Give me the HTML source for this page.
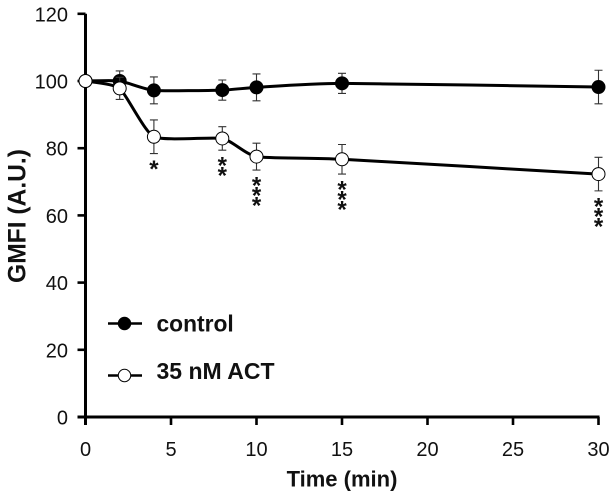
<!DOCTYPE html>
<html><head><meta charset="utf-8"><title>GMFI over time</title>
<style>html,body{margin:0;padding:0;background:#fff}svg{display:block;filter:blur(0.35px)}text{font-family:"Liberation Sans",sans-serif;fill:#111}</style></head>
<body>
<svg id="chart" width="616" height="498" viewBox="0 0 616 498" xmlns="http://www.w3.org/2000/svg">
<rect width="616" height="498" fill="#fff"/>
<g id="axes"></g>
<g id="series"></g>
<g id="legend">
  <g>
    <line x1="108" x2="142" y1="323.5" y2="323.5" stroke="#000" stroke-width="2.6"/>
    <circle cx="124.5" cy="323.5" r="6.2" fill="#000" stroke="#000"/>
    <text x="156.5" y="331.5" font-size="22.8" font-weight="700">control</text>
  </g>
  <g>
    <line x1="108" x2="142" y1="375.5" y2="375.5" stroke="#000" stroke-width="2.6"/>
    <circle cx="124.5" cy="375.5" r="6.2" fill="#fff" stroke="#000" stroke-width="1"/>
    <text x="156.5" y="379" font-size="23" font-weight="700">35 nM ACT</text>
  </g>
</g>
</svg>
<script>
const times = [0, 2, 4, 8, 10, 15, 30];
const controlValues = [100, 100, 97.2, 97.3, 98.1, 99.3, 98.2];
const controlErrors = [0, 3, 4, 3, 4, 3, 5];
const actValues = [100, 97.8, 83.4, 82.9, 77.5, 76.7, 72.3];
const actErrors = [0, 3.3, 5, 3.5, 4, 4.4, 5];
const significance = ['', '', '*', '**', '***', '***', '***'];
const xTicks = [0, 5, 10, 15, 20, 25, 30];
const yTicks = [0, 20, 40, 60, 80, 100, 120];

const svgNS = 'http://www.w3.org/2000/svg';
const X = t => 85.5 + t * 17.1;
const Y = v => 417 - v * 3.36;

function mk(parent, tag, attrs, text) {
  const el = document.createElementNS(svgNS, tag);
  for (const k in attrs) el.setAttribute(k, attrs[k]);
  if (text !== undefined) el.textContent = text;
  parent.appendChild(el);
  return el;
}

const axes = document.getElementById('axes');
const seriesG = document.getElementById('series');

const yLine = mk(axes, 'line', {x1: X(0), x2: X(0), y1: Y(120), y2: Y(0) + 8, stroke: '#000', 'stroke-width': 3});


const xLine = mk(axes, 'line', {x1: X(0) - 8, x2: X(30) + 1, y1: Y(0), y2: Y(0), stroke: '#000', 'stroke-width': 3});



yTicks.forEach(v => {
  const tick = mk(axes, 'line', {x1: X(0) - 8, x2: X(0), y1: Y(v), y2: Y(v), stroke: '#000', 'stroke-width': 2.6});
  
  
  const label = mk(axes, 'text', {x: 68, y: Y(v) + 7.5, 'font-size': 20, 'text-anchor': 'end'}, String(v));
  
  
});
xTicks.forEach(t => {
  const tick = mk(axes, 'line', {x1: X(t), x2: X(t), y1: Y(0), y2: Y(0) + 8, stroke: '#000', 'stroke-width': 2.6});
  
  
  const label = mk(axes, 'text', {x: X(t), y: 456, 'font-size': 20, 'text-anchor': 'middle'}, String(t));
  
  
});

const xTitle = mk(axes, 'text', {x: 342, y: 486.5, 'font-size': 22, 'font-weight': 700, 'text-anchor': 'middle'}, 'Time (min)');


const yTitle = mk(axes, 'text', {x: 0, y: 0, 'font-size': 24.6, 'font-weight': 700, 'text-anchor': 'middle', transform: 'translate(25.5,216) rotate(-90)'}, 'GMFI (A.U.)');



function smoothPath(xs, ys) {
  const pts = xs.map((t, i) => [X(t), Y(ys[i])]);
  let d = 'M' + pts[0][0] + ' ' + pts[0][1];
  const k = 0.09;
  for (let i = 0; i < pts.length - 1; i++) {
    const p0 = pts[Math.max(i - 1, 0)], p1 = pts[i], p2 = pts[i + 1], p3 = pts[Math.min(i + 2, pts.length - 1)];
    d += ' C' + (p1[0] + (p2[0] - p0[0]) * k) + ' ' + (p1[1] + (p2[1] - p0[1]) * k) + ' ' +
         (p2[0] - (p3[0] - p1[0]) * k) + ' ' + (p2[1] - (p3[1] - p1[1]) * k) + ' ' + p2[0] + ' ' + p2[1];
  }
  return d;
}

function drawSeries(name, values, errors) {
  const g = mk(seriesG, 'g', {});
  
  
  times.forEach((t, i) => {
    if (!errors[i]) return;
    const top = Y(values[i] + errors[i]), bot = Y(values[i] - errors[i]), x = X(t);
    const eb = mk(g, 'path', {d: 'M' + (x - 4) + ' ' + top + 'H' + (x + 4) + 'M' + x + ' ' + top + 'V' + bot + 'M' + (x - 4) + ' ' + bot + 'H' + (x + 4), stroke: '#333', 'stroke-width': 1.1, fill: 'none'});
    
    
  });
  const line = mk(g, 'path', {d: smoothPath(times, values), fill: 'none', stroke: '#000', 'stroke-width': 3});
  
  
  return g;
}

function drawPoints(g, name, values, fill) {
  times.forEach((t, i) => {
    const c = mk(g, 'circle', {cx: X(t), cy: Y(values[i]), r: 6.5, fill: fill, stroke: '#000', 'stroke-width': 1});
    
    
  });
}

const gControl = drawSeries('control', controlValues, controlErrors);
const gAct = drawSeries('act', actValues, actErrors);
drawPoints(gControl, 'control', controlValues, '#000');
drawPoints(gAct, 'act', actValues, '#fff');

times.forEach((t, i) => {
  const s = significance[i];
  for (let n = 0; n < s.length; n++) {
    const center = Y(actValues[i] - actErrors[i]) + 9.5 + n * 10;
    const star = mk(seriesG, 'text', {x: X(t), y: center + 14, 'font-size': 24, 'font-weight': 700, 'text-anchor': 'middle'}, '*');
    
    
  }
});
</script>
</body></html>
